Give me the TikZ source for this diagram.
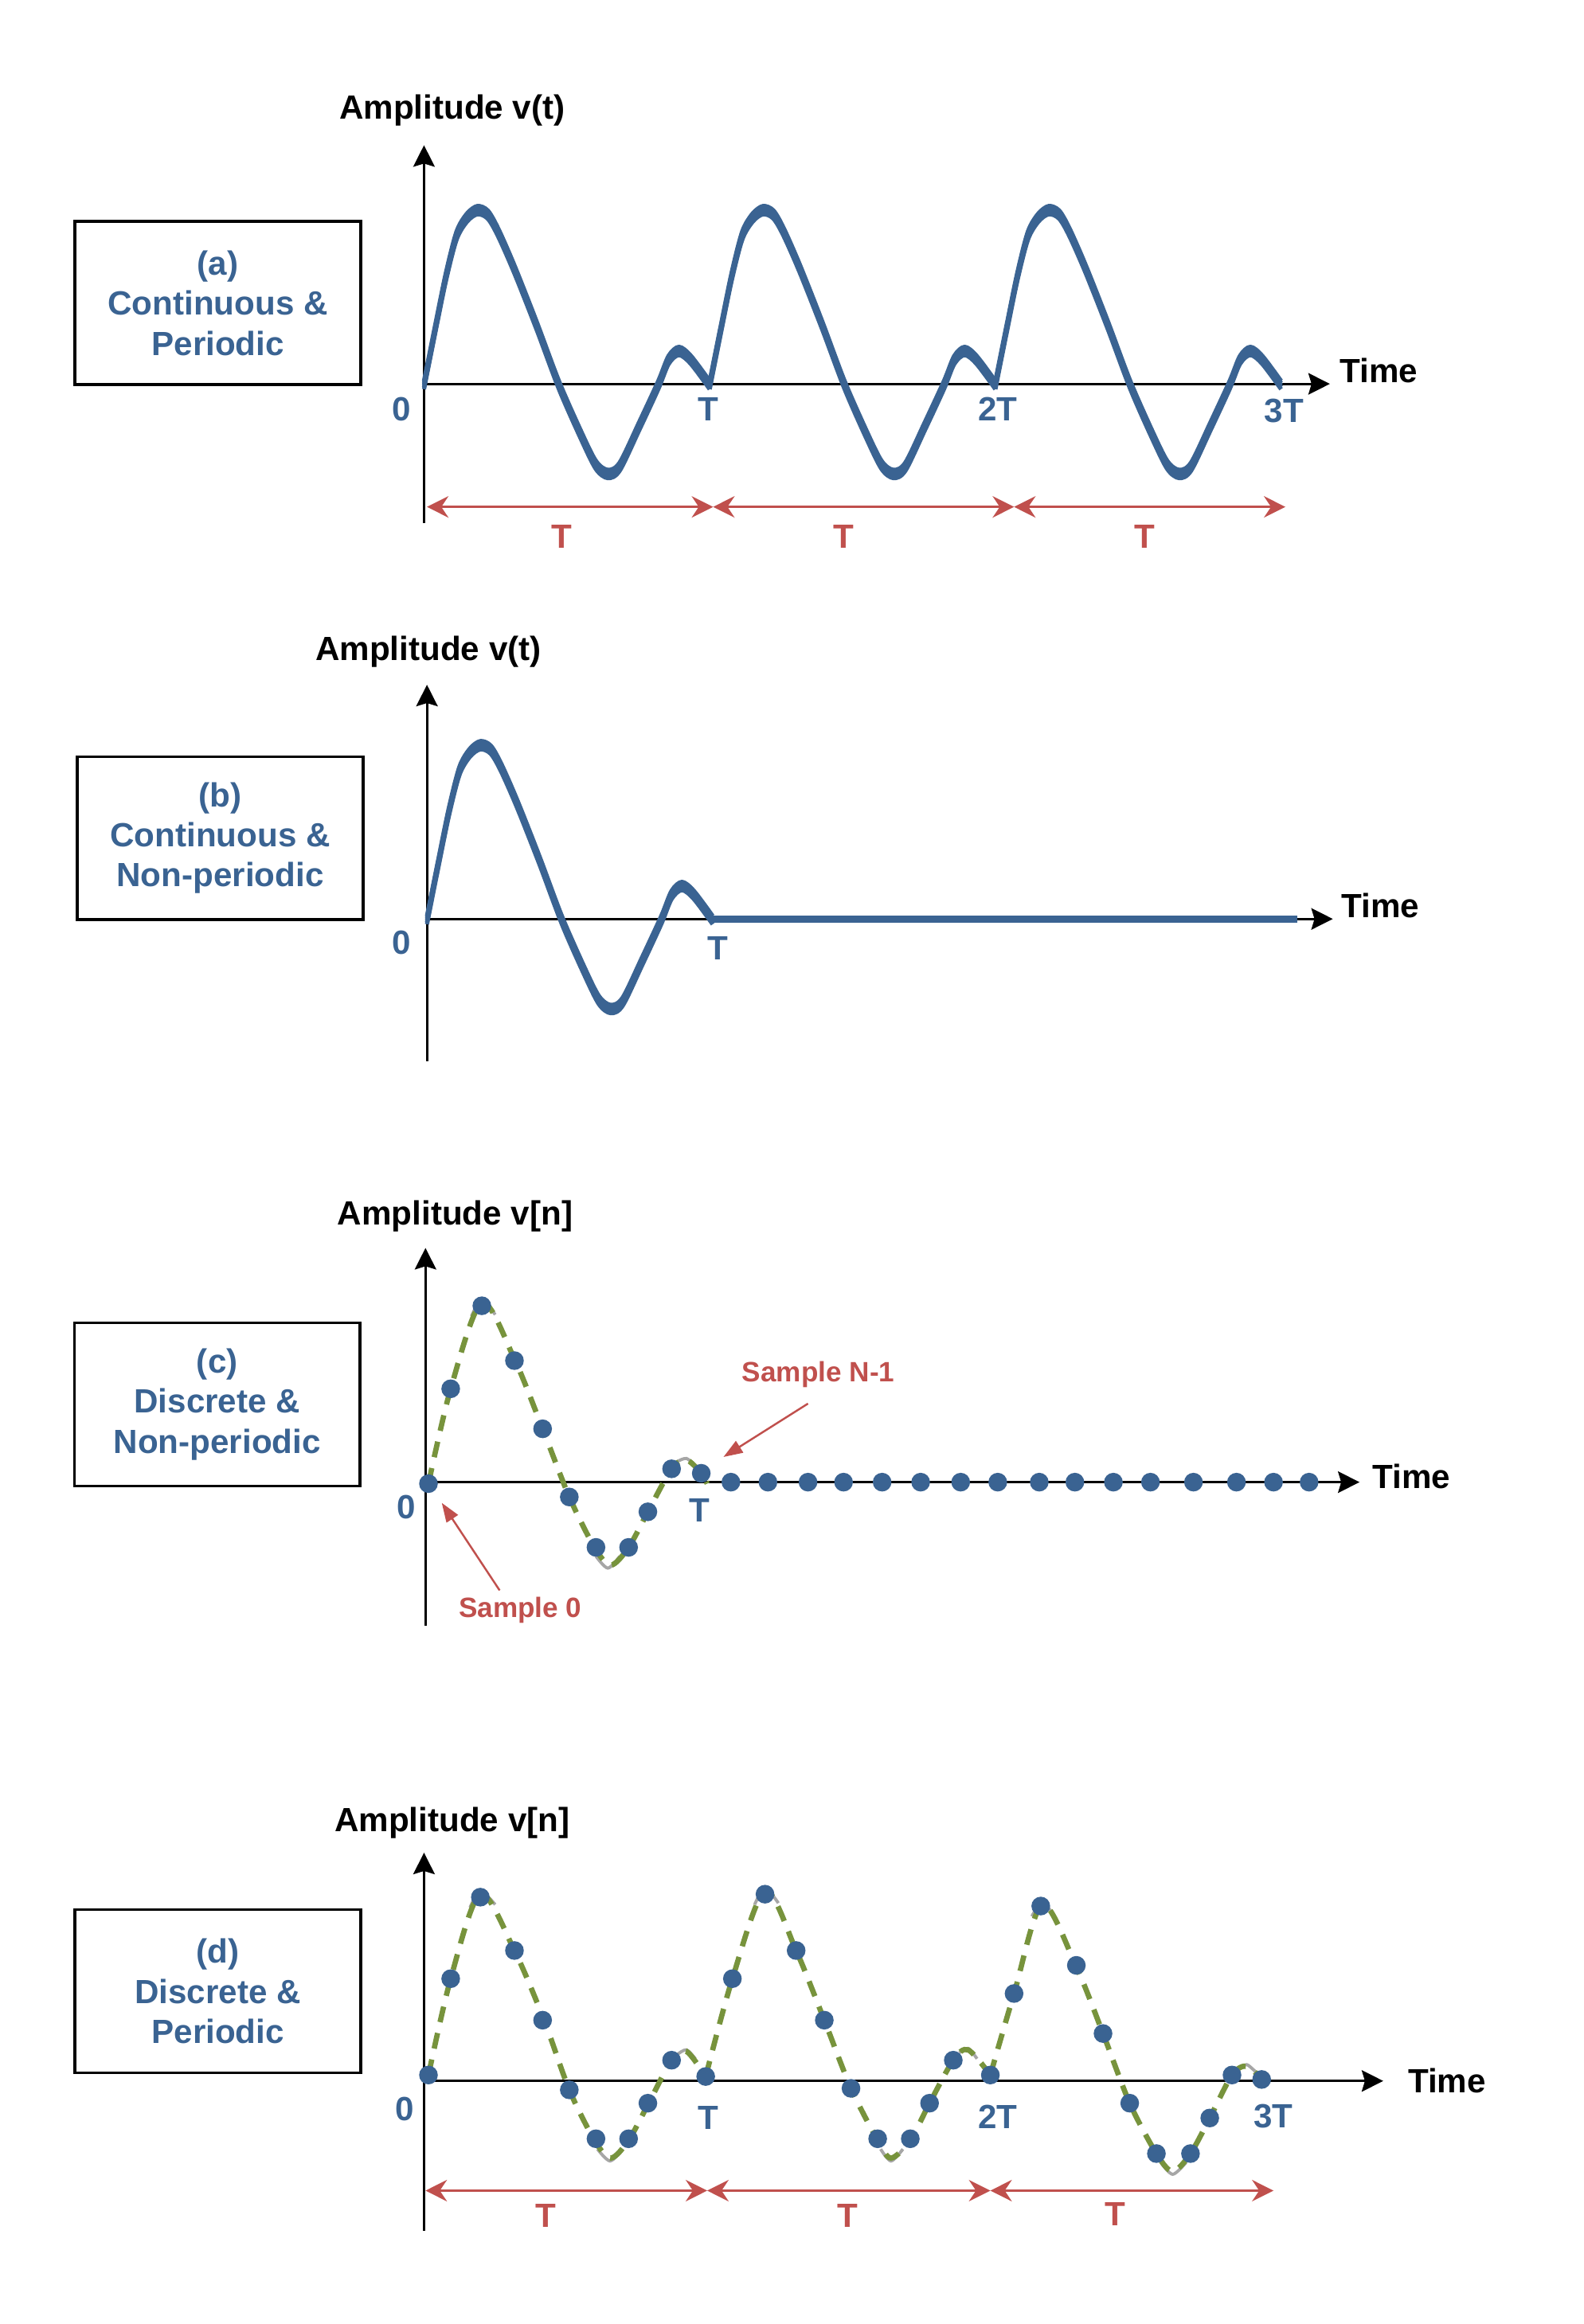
\documentclass[tikz,border=0pt]{standalone}
\usepackage{fontspec}
\setmainfont{Liberation Sans}
\usetikzlibrary{arrows.meta}
\definecolor{sigblue}{RGB}{58,99,146}
\definecolor{markred}{RGB}{192,80,77}
\definecolor{trendgreen}{RGB}{119,147,60}
\definecolor{arcgrey}{RGB}{166,166,166}

\begin{document}
\begin{tikzpicture}[
  x=0.18624mm, y=-0.18624mm,
  big/.style={font=\bfseries\fontsize{12}{14.3}\selectfont},
  lbl/.style={big, anchor=base},
  tk/.style={big, text=sigblue},
  per/.style={big, text=markred},
  kind/.style={big, draw, line width=1pt, text=sigblue, align=center,
    minimum width=35.9mm, minimum height=20.5mm, inner sep=0pt},
  axis/.style={line width=0.8pt, -{Stealth[length=2.7mm, width=2.7mm, inset=0.4mm]}},
  wave/.style={sigblue, line width=1.5pt, line join=round},
  flat/.style={sigblue, line width=2.5pt},
  pulse/.pic={
    \foreach \dy in {0,1.4,2.8,4.2,5.6}
      \draw[wave, shift={(0,\dy)}] plot[smooth, tension=0.5] coordinates {
        (0,0) (8,-40) (15,-74) (22,-101) (29,-113) (36,-118) (43,-115)
        (50,-103) (61,-78) (76,-40) (91,0) (106,34) (116,54) (124,60)
        (132,55) (145,28) (158,0) (165,-17) (172,-23) (180,-17) (192.7,0)};
  },
  span/.style={markred, line width=0.7pt,
    {Stealth[length=2.7mm, width=2.7mm, inset=0.9mm]}-{Stealth[length=2.7mm, width=2.7mm, inset=0.9mm]}},
  smp/.style={circle, fill=sigblue, inner sep=0pt, minimum size=2.35mm},
  trend/.style={trendgreen, line width=1.9pt, dash pattern=on 2mm off 1.4mm},
  arcg/.style={arcgrey, line width=1.1pt},
  note/.style={font=\bfseries\fontsize{10}{12}\selectfont, text=markred, anchor=base},
  callout/.style={markred, line width=0.7pt, -{Triangle[length=2.4mm, width=1.7mm]}}
]
\useasboundingbox (0,0) rectangle (1068,1568);

% axes of the four panels
\foreach \p/\ox/\oy/\top/\bot/\xend in {A/286/259/98/353/897, B/288/620/462/716/899,
    C/287/1000/842/1097/917, D/286/1404/1250/1505/933} {
  \coordinate (o\p) at (\ox,\oy);
  \coordinate (y\p) at (\ox,\top);
  \coordinate (b\p) at (\ox,\bot);
  \coordinate (x\p) at (\xend,\oy);
  \draw[axis] (b\p) -- (y\p);
  \draw[axis] (o\p) -- (x\p);
}

% (a) continuous, periodic
\node[kind] (boxA) at (147,204.5) {(a)\\Continuous \&\\Periodic};
\node[lbl] (ampA) at (305,80.4) {Amplitude v(t)};
\node[big] (timeA) at (930,250) {Time};
\foreach \ox in {286,478.7,671.4} \pic at (\ox,257) {pulse};
\node[tk] (zeroA) at (271,276) {0};
\node[tk] (t1A) at (478,276) {T};
\node[tk] (t2A) at (673,276) {2T};
\node[tk] (t3A) at (866,277) {3T};
\coordinate (sa0) at (288,342);
\coordinate (sa1) at (481,342);
\coordinate (sa2) at (684,342);
\coordinate (sa3) at (867,342);
\draw[span] (sa0) -- (sa1);
\draw[span] (sa1) -- (sa2);
\draw[span] (sa2) -- (sa3);
\node[per] (pa1) at (379,362) {T};
\node[per] (pa2) at (569,362) {T};
\node[per] (pa3) at (772,362) {T};

% (b) continuous, non-periodic
\node[kind] (boxB) at (148.5,565.5) {(b)\\Continuous \&\\Non-periodic};
\node[lbl] (ampB) at (289,445.7) {Amplitude v(t)};
\node[big] (timeB) at (931,611) {Time};
\pic at (288,618) {pulse};
\coordinate (flatB) at (480.7,620);
\coordinate (endB) at (875,620);
\draw[flat] (flatB) -- (endB);
\node[tk] (zeroB) at (271,636) {0};
\node[tk] (t1B) at (484,640) {T};

% (c) discrete, non-periodic
\node[kind] (boxC) at (146.5,947.5) {(c)\\Discrete \&\\Non-periodic};
\node[lbl] (ampC) at (307,826.5) {Amplitude v[n]};
\node[big] (timeC) at (952,996) {Time};
\draw[arcg] plot[smooth] coordinates {(318,888) (325,877) (334,887)};
\draw[arcg] plot[smooth] coordinates {(402,1050) (410,1058) (418,1050)};
\draw[arcg] plot[smooth] coordinates {(457,986) (463,984) (469,989)};
\draw[trend] plot[smooth, tension=0.5] coordinates {(289,1001) (304,937) (325,879) (347,917)
  (366,964) (384,1010) (401,1044) (412,1056) (424,1044) (437,1020) (453,991) (463,985)
  (473,994) (477,1001)};
\foreach \px/\py [count=\i] in {289/1001, 304/937, 325/881, 347/918, 366/964, 384/1010,
    402/1044, 424/1044, 437/1020, 453/991, 473/994}
  \node[smp] (c\i) at (\px,\py) {};
\foreach \px [count=\i from 12] in {493,518,545,569,595,621,648,673,701,725,751,776,805,834,859,883}
  \node[smp] (c\i) at (\px,1000) {};
\node[tk] (zeroC) at (274,1017) {0};
\node[tk] (t1C) at (472,1019) {T};
\node[note] (lastC) at (552,932) {Sample N-1};
\node[note] (firstC) at (351,1091.5) {Sample 0};
\coordinate (lastTail) at (545,947);
\coordinate (lastTip) at (488,983);
\coordinate (firstTail) at (337,1073);
\coordinate (firstTip) at (298,1014);
\draw[callout] (lastTail) -- (lastTip);
\draw[callout] (firstTail) -- (firstTip);

% (d) discrete, periodic
\node[kind] (boxD) at (147,1343.5) {(d)\\Discrete \&\\Periodic};
\node[lbl] (ampD) at (305,1235.6) {Amplitude v[n]};
\node[big] (timeD) at (976,1404) {Time};
\draw[arcg] plot[smooth] coordinates {(317,1287) (324,1276) (334,1285)};
\draw[arcg] plot[smooth] coordinates {(403,1450) (411.5,1458) (420,1450)};
\draw[arcg] plot[smooth] coordinates {(457,1386) (463,1383) (469,1389)};
\draw[arcg] plot[smooth] coordinates {(509,1285) (516,1274) (525,1284)};
\draw[arcg] plot[smooth] coordinates {(594,1450) (601,1458) (609,1450)};
\draw[arcg] plot[smooth] coordinates {(647,1385) (653,1382) (659,1389)};
\draw[arcg] plot[smooth] coordinates {(696,1293) (703,1283) (711,1293)};
\draw[arcg] plot[smooth] coordinates {(783,1459) (791,1467) (800,1459)};
\draw[arcg] plot[smooth] coordinates {(836,1396) (841,1393) (847,1398)};
\draw[trend] plot[smooth, tension=0.5] coordinates {(289,1400) (304,1335) (324,1278) (347,1316)
  (367,1363) (384,1410) (401,1444) (412,1456) (424,1444) (437,1420) (453,1390) (463,1384)
  (476,1401)};
\draw[trend] plot[smooth, tension=0.5] coordinates {(476,1401) (494,1335) (516,1276) (537,1316)
  (556,1363) (574,1409) (592,1444) (601,1456) (614,1444) (627,1419) (643,1390) (653,1383)
  (668,1400)};
\draw[trend] plot[smooth, tension=0.5] coordinates {(668,1400) (684,1345) (703,1285) (726,1327)
  (744,1372) (762,1419) (780,1453) (791,1465) (803,1453) (816,1429) (831,1400) (841,1394)
  (851,1403)};
\foreach \px/\py [count=\i] in {289/1400, 304/1335, 324/1280, 347/1316, 366/1363, 384/1410,
    402/1443, 424/1443, 437/1419, 453/1390, 476/1401,
    494/1335, 516/1278, 537/1316, 556/1363, 574/1409, 592/1443, 614/1443, 627/1419, 643/1390, 668/1400,
    684/1345, 702/1286, 726/1326, 744/1372, 762/1419, 780/1453, 803/1453, 816/1429, 831/1400, 851/1403}
  \node[smp] (d\i) at (\px,\py) {};
\node[tk] (zeroD) at (273,1423) {0};
\node[tk] (t1D) at (478,1429) {T};
\node[tk] (t2D) at (673,1428) {2T};
\node[tk] (t3D) at (859,1428) {3T};
\coordinate (sd0) at (287,1478);
\coordinate (sd1) at (477,1478);
\coordinate (sd2) at (668,1478);
\coordinate (sd3) at (859,1478);
\draw[span] (sd0) -- (sd1);
\draw[span] (sd1) -- (sd2);
\draw[span] (sd2) -- (sd3);
\node[per] (pd1) at (368,1495) {T};
\node[per] (pd2) at (572,1495) {T};
\node[per] (pd3) at (752,1494) {T};
\end{tikzpicture}
\end{document}
